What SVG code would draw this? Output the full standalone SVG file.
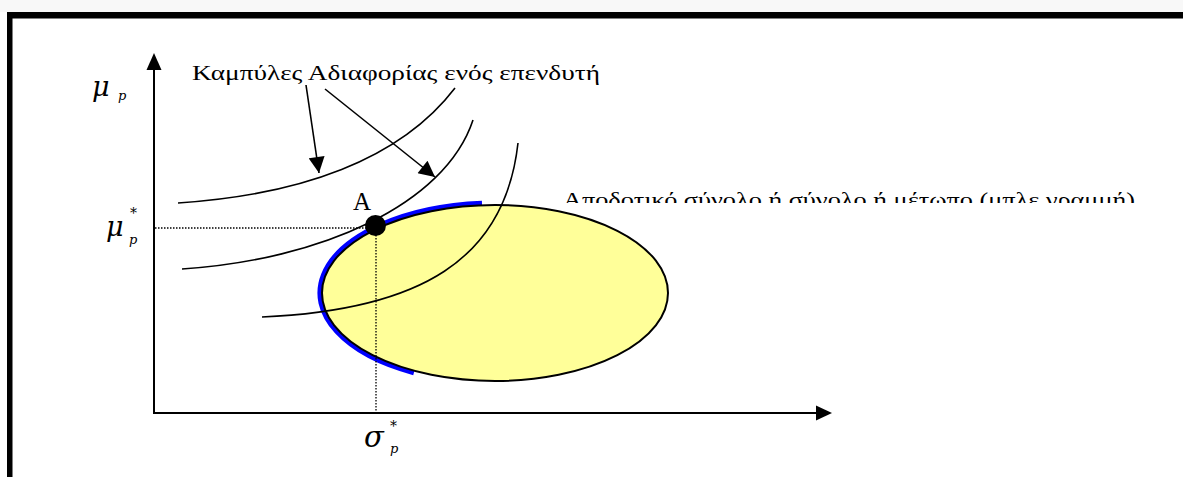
<svg xmlns="http://www.w3.org/2000/svg" width="1183" height="477" viewBox="0 0 1183 477">
<style>
.lbl{font-family:"Liberation Serif","DejaVu Serif","Times New Roman",serif;font-size:22px;fill:#000}
.sym{font-family:"DejaVu Serif","Liberation Serif",serif;font-style:italic;fill:#000}
.curve{fill:none;stroke:#000;stroke-width:1.6}
.axis{fill:none;stroke:#000;stroke-width:2}
.dot{fill:none;stroke:#000;stroke-width:1.3;stroke-dasharray:1.5 1.5}
.ptr{fill:none;stroke:#000;stroke-width:1.6}
</style>
<defs>
<marker id="ph" viewBox="0 0 10 10" refX="10" refY="5" markerWidth="17" markerHeight="16" markerUnits="userSpaceOnUse" orient="auto">
<path d="M0,0 L10,5 L0,10 Z" fill="#000"/>
</marker>
<clipPath id="clipTxt"><rect x="0" y="0" width="1183" height="203"/></clipPath>
</defs>
<rect x="0" y="0" width="1183" height="477" fill="#fff"/>
<rect x="0" y="0" width="1183" height="12" fill="#f8f8f8"/>
<g id="frame">
<rect x="7" y="12" width="1176" height="6.5" fill="#000"/>
<rect x="7" y="12" width="5.5" height="465" fill="#000"/>
</g>
<g id="axes">
<line class="axis" x1="154" y1="414" x2="154" y2="70"/>
<path d="M146.5,70 L154,53 L161.5,70 Z" fill="#000"/>
<line class="axis" x1="153" y1="413" x2="816" y2="413"/>
<path d="M816,405.5 L832,413 L816,420.5 Z" fill="#000"/>
</g>
<g id="efficient-set">
<path d="M482,203.75 A174.5,89.5 0 0 0 414,372.3" fill="none" stroke="#0000ff" stroke-width="6"/>
</g>
<g id="opportunity-set">
<ellipse cx="495" cy="293" rx="173" ry="88" fill="#ffff99" stroke="#000" stroke-width="2"/>
</g>
<g id="indifference-curves">
<path class="curve" d="M178,203 C300,195 400,160 455,88"/>
<path class="curve" d="M182,269 C320,260 445,205 473,120"/>
<path class="curve" d="M262,317 C420,310 505,260 518,143"/>
</g>
<g id="guides">
<line class="dot" x1="155" y1="228" x2="372" y2="228"/>
<line class="dot" x1="376" y1="232" x2="376" y2="412"/>
</g>
<g id="point-A">
<circle cx="375.5" cy="225.5" r="10.5" fill="#000"/>
<text class="lbl" x="353" y="210" style="font-size:25px">A</text>
</g>
<g id="axis-labels">
<text class="sym" x="92" y="96" font-size="27">μ</text>
<text class="sym" x="118" y="100" font-size="13">p</text>
<text class="sym" x="106" y="236" font-size="27">μ</text>
<text class="sym" x="130" y="218" font-size="14">*</text>
<text class="sym" x="129" y="244" font-size="13">p</text>
<text class="sym" x="364" y="447" font-size="29">σ</text>
<text class="sym" x="390" y="431" font-size="14">*</text>
<text class="sym" x="390" y="453" font-size="13">p</text>
</g>
<g id="connectors">
<line class="ptr" x1="306" y1="85" x2="319" y2="173" marker-end="url(#ph)"/>
<line class="ptr" x1="325" y1="89" x2="435" y2="177" marker-end="url(#ph)"/>
</g>
<g id="labels">
<text class="lbl" x="192" y="80" textLength="408" lengthAdjust="spacingAndGlyphs">Καμπύλες Αδιαφορίας ενός επενδυτή</text>
<text class="lbl" x="563" y="207" textLength="572" lengthAdjust="spacingAndGlyphs" clip-path="url(#clipTxt)">Αποδοτικό σύνολο ή σύνολο ή μέτωπο (μπλε γραμμή)</text>
</g>
</svg>
